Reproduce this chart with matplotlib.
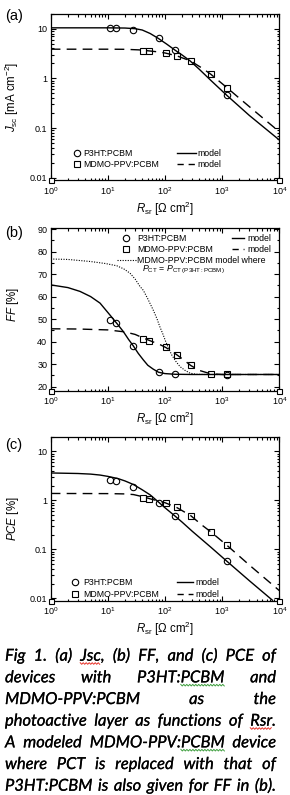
import numpy as np
import matplotlib
matplotlib.use("Agg")
import matplotlib.pyplot as plt
import matplotlib.patheffects as pe
from matplotlib.lines import Line2D
from matplotlib.ticker import FixedLocator, FixedFormatter, LogLocator, NullFormatter, MultipleLocator

plt.rcParams['font.family'] = ['Liberation Sans', 'DejaVu Sans']
plt.rcParams['mathtext.fontset'] = 'custom'
plt.rcParams['mathtext.rm'] = 'Liberation Sans'
plt.rcParams['mathtext.it'] = 'Liberation Sans:italic'
plt.rcParams['mathtext.bf'] = 'Liberation Sans:bold'
plt.rcParams['mathtext.sf'] = 'Liberation Sans'

# ---------------- data ----------------
rsr_p3ht = [10.9, 13.8, 27.9, 77, 150, 1200]
jsc_p3ht = [10.1, 10.1, 9.6, 6.45, 3.8, 0.46]
ff_p3ht = [49.4, 48.2, 38.1, 26.4, 25.6, 25.3]
pce_p3ht = [2.67, 2.47, 1.87, 0.87, 0.48, 0.058]

rsr_mdmo = [41.7, 53, 103, 162, 282, 630, 1200]
jsc_mdmo = [3.58, 3.54, 3.27, 2.80, 2.26, 1.24, 0.65]
ff_mdmo = [41.1, 40.4, 37.4, 34.1, 29.4, 25.6, 25.4]
pce_mdmo = [1.13, 1.07, 0.90, 0.73, 0.49, 0.23, 0.123]

# model curves
jsc_model_p3ht_r = [1, 5, 10, 20, 30, 40, 55, 76, 107, 150, 200, 274, 400, 630, 1200, 3000, 10000]
jsc_model_p3ht = [10.4, 10.4, 10.4, 10.3, 10.0, 9.4, 8.0, 6.4, 4.9, 3.7, 2.95, 2.26, 1.52, 0.92, 0.46, 0.18, 0.058]
jsc_model_mdmo_r = [1, 10, 20, 35, 50, 70, 100, 160, 280, 450, 630, 1200, 2000, 5000, 10000]
jsc_model_mdmo = [3.87, 3.87, 3.85, 3.75, 3.6, 3.45, 3.25, 2.85, 2.25, 1.6, 1.22, 0.66, 0.40, 0.165, 0.085]

ff_model_p3ht_r = [1, 2, 3.26, 5, 7.3, 11.4, 15, 18.6, 23, 27.9, 34, 41.7, 50, 62, 77, 100, 150, 300, 1000, 10000]
ff_model_p3ht = [65.2, 64.0, 62.3, 60.0, 57.1, 51.2, 47.5, 44.5, 41.0, 38.1, 34.8, 31.9, 29.5, 27.8, 26.4, 25.8, 25.5, 25.4, 25.4, 25.4]
ff_model_mdmo_r = [1, 3, 10, 20, 30, 41.7, 60, 80, 103, 130, 162, 220, 282, 400, 630, 1000, 10000]
ff_model_mdmo = [45.7, 45.6, 45.2, 44.3, 43.2, 41.6, 40.0, 38.8, 37.4, 35.8, 34.1, 31.6, 29.4, 27.2, 25.7, 25.4, 25.4]
ff_model_pct_r = [1, 2, 4.9, 9, 14.3, 19, 24.4, 30, 36.5, 41.7, 50, 62, 72, 81, 92, 103, 116, 131, 155, 183, 225, 274, 350, 500, 10000]
ff_model_pct = [76.7, 76.5, 75.6, 74.7, 73.7, 72.3, 70.4, 67.8, 64.5, 62.8, 59.0, 54.1, 50.3, 46.7, 43.3, 40.0, 37.0, 34.1, 31.2, 28.9, 27.2, 26.0, 25.5, 25.4, 25.4]

pce_model_p3ht_r = [1, 3, 5, 7.3, 10, 15, 20, 27.9, 40, 55, 76, 100, 150, 200, 300, 630, 1200, 3000, 7600]
pce_model_p3ht = [3.64, 3.55, 3.45, 3.3, 3.1, 2.8, 2.5, 2.12, 1.65, 1.3, 0.94, 0.71, 0.48, 0.36, 0.235, 0.112, 0.058, 0.023, 0.0092]
pce_model_mdmo_r = [1, 10, 20, 28, 40, 60, 100, 160, 282, 450, 630, 1200, 3000, 10000]
pce_model_mdmo = [1.39, 1.38, 1.36, 1.32, 1.2, 1.05, 0.9, 0.72, 0.49, 0.31, 0.23, 0.123, 0.048, 0.0145]

x_ticks = [1, 10, 100, 1000, 10000]
x_ticklabels = [r'$10^{0}$', r'$10^{1}$', r'$10^{2}$', r'$10^{3}$', r'$10^{4}$']
log_y_ticks = [0.01, 0.1, 1, 10]
log_y_ticklabels = ['0.01', '0.1', '1', '10']
ff_ticks = [20, 30, 40, 50, 60, 70, 80, 90]
ff_ticklabels = ['20', '30', '40', '50', '60', '70', '80', '90']

label_p3ht = 'P3HT:PCBM'
label_mdmo = 'MDMO-PPV:PCBM'
label_model = 'model'
label_pct = 'MDMO-PPV:PCBM model where'
pct_note = r'$P_{\rm CT}$ = $P_{\rm CT\ (P3HT:PCBM)}$'
xlabel = r'$R_{\rm sr}$ [Ω cm$^{2}$]'
ylabels = [r'$J_{\rm sc}$ [mA cm$^{-2}$]', r'$FF$ [%]', r'$PCE$ [%]']
panel_labels = ['(a)', '(b)', '(c)']

caption_lines = [
    "Fig 1. (a) Jsc, (b) FF, and (c) PCE of",
    "devices with P3HT:PCBM and",
    "MDMO-PPV:PCBM as the",
    "photoactive layer as functions of Rsr.",
    "A modeled MDMO-PPV:PCBM device",
    "where PCT is replaced with that of",
    "P3HT:PCBM is also given for FF in (b).",
]
# (line, word, first char, end char, colour) of spell-check squiggles
caption_squiggles = [
    (0, 3, 0, 3, '#e8332a'),
    (1, 2, 5, 9, '#3f9f3f'),
    (3, 5, 0, 3, '#e8332a'),
    (4, 2, 9, 13, '#3f9f3f'),
]

# ---------------- layout ----------------
W, H = 290, 795
fig = plt.figure(figsize=(W / 100, H / 100), dpi=100)

def ax_rect(left, top, right, bottom):
    return [left / W, 1 - bottom / H, (right - left) / W, (bottom - top) / H]

ax_a = fig.add_axes(ax_rect(50.7, 13.7, 279.3, 180.0))
ax_b = fig.add_axes(ax_rect(50.7, 227.7, 279.3, 390.7))
ax_c = fig.add_axes(ax_rect(50.7, 436.7, 279.3, 600.5))

TICK_FS = 6.5
LAB_FS = 8.3
LEG_FS = 6.3
MS = 4.6
MEW = 0.8
LW = 1.0
DASH = (7, 4.5)

def style_axis(ax, logy):
    ax.set_xscale('log')
    ax.set_xlim(1, 1e4)
    ax.xaxis.set_major_locator(FixedLocator(x_ticks))
    ax.xaxis.set_major_formatter(FixedFormatter(x_ticklabels))
    ax.xaxis.set_minor_locator(LogLocator(base=10, subs=np.arange(2, 10)))
    ax.xaxis.set_minor_formatter(NullFormatter())
    if logy:
        ax.set_yscale('log')
        ax.set_ylim(0.0091, 20)
        ax.yaxis.set_major_locator(FixedLocator(log_y_ticks))
        ax.yaxis.set_major_formatter(FixedFormatter(log_y_ticklabels))
        ax.yaxis.set_minor_locator(LogLocator(base=10, subs=np.arange(2, 10)))
        ax.yaxis.set_minor_formatter(NullFormatter())
    else:
        ax.set_ylim(18.2, 90.6)
        ax.yaxis.set_major_locator(FixedLocator(ff_ticks))
        ax.yaxis.set_major_formatter(FixedFormatter(ff_ticklabels))
        ax.yaxis.set_minor_locator(MultipleLocator(5))
    ax.tick_params(which='both', direction='in', top=True, right=True, width=0.8, labelsize=TICK_FS)
    ax.tick_params(which='major', length=3.3)
    ax.tick_params(which='minor', length=1.8)
    ax.tick_params(axis='x', pad=3.5)
    ax.tick_params(axis='y', pad=2.5)
    for s in ax.spines.values():
        s.set_linewidth(0.9)
    ax.set_xlabel(xlabel, fontsize=LAB_FS)
    ax.xaxis.set_label_coords(0.5, -0.118)
    # corner artefacts
    ax.plot([0, 1], [0, 0], 's', transform=ax.transAxes, clip_on=False, ms=3.6,
            mfc='white', mec='black', mew=0.8, zorder=6)

for ax, logy in ((ax_a, True), (ax_b, False), (ax_c, True)):
    style_axis(ax, logy)

mk_c = dict(marker='o', ls='none', ms=MS, mfc='none', mec='black', mew=MEW)
mk_s = dict(marker='s', ls='none', ms=MS, mfc='none', mec='black', mew=MEW)

# (a)
ax_a.plot(jsc_model_p3ht_r, jsc_model_p3ht, '-', color='black', lw=LW)
ax_a.plot(jsc_model_mdmo_r, jsc_model_mdmo, color='black', lw=LW, dashes=DASH)
ax_a.plot(rsr_p3ht, jsc_p3ht, **mk_c)
ax_a.plot(rsr_mdmo, jsc_mdmo, **mk_s)

# (b)
ax_b.plot(ff_model_pct_r, ff_model_pct, color='black', lw=0.8, ls=(0, (1, 1.3)))
ax_b.plot(ff_model_p3ht_r, ff_model_p3ht, '-', color='black', lw=LW)
ax_b.plot(ff_model_mdmo_r, ff_model_mdmo, color='black', lw=LW, dashes=DASH)
ax_b.plot(rsr_p3ht, ff_p3ht, **mk_c)
ax_b.plot(rsr_mdmo, ff_mdmo, **mk_s)

# (c)
ax_c.plot(pce_model_p3ht_r, pce_model_p3ht, '-', color='black', lw=LW)
ax_c.plot(pce_model_mdmo_r, pce_model_mdmo, color='black', lw=LW, dashes=DASH)
ax_c.plot(rsr_p3ht, pce_p3ht, **mk_c)
ax_c.plot(rsr_mdmo, pce_mdmo, **mk_s)

# y labels
ax_a.set_ylabel(ylabels[0], fontsize=LAB_FS)
ax_b.set_ylabel(ylabels[1], fontsize=LAB_FS)
ax_c.set_ylabel(ylabels[2], fontsize=LAB_FS)
ax_a.yaxis.set_label_coords(-0.128, 0.5)
ax_b.yaxis.set_label_coords(-0.128, 0.53)
ax_c.yaxis.set_label_coords(-0.128, 0.5)

# legends
h_c = Line2D([], [], **mk_c)
h_s = Line2D([], [], **mk_s)
h_solid = Line2D([], [], color='black', lw=LW)
h_dash = Line2D([], [], color='black', lw=LW, dashes=(4.5, 3.5))
h_dot = Line2D([], [], color='black', lw=0.8, ls=(0, (1, 1.3)))

leg_kw = dict(frameon=False, borderpad=0, borderaxespad=0, fontsize=LEG_FS, loc='center left')

def axx(ax, px):
    return (px - 50.7) / 228.6

# (a) legends
l1 = ax_a.legend([h_c, h_s], [label_p3ht, label_mdmo], bbox_to_anchor=(axx(ax_a, 73.0), 0.127),
                 handlelength=0.8, handletextpad=0.35, labelspacing=0.28, **leg_kw)
ax_a.add_artist(l1)
ax_a.legend([h_solid, h_dash], [label_model, label_model], bbox_to_anchor=(axx(ax_a, 176.7), 0.127),
            handlelength=2.15, handletextpad=0.25, labelspacing=0.28, **leg_kw)

# (b) legends
l2 = ax_b.legend([h_c, h_s, h_dot], [label_p3ht, label_mdmo, label_pct],
                 bbox_to_anchor=(axx(ax_b, 116.5), 0.8675),
                 handlelength=2.2, handletextpad=0.15, labelspacing=0.25, **leg_kw)
ax_b.add_artist(l2)
ax_b.legend([h_solid, h_dash], [label_model, label_model], bbox_to_anchor=(axx(ax_b, 231.7), 0.898),
            handlelength=1.45, handletextpad=0.3, labelspacing=0.25, **leg_kw)
ax_b.text(axx(ax_b, 141.7), (390.7 - 270.0) / 163.0, pct_note, transform=ax_b.transAxes,
          fontsize=LEG_FS, ha='left', va='center')

# (c) legends
l3 = ax_c.legend([h_c, h_s], [label_p3ht, label_mdmo], bbox_to_anchor=(axx(ax_c, 71.5), 0.072),
                 handlelength=0.8, handletextpad=0.5, labelspacing=0.28, **leg_kw)
ax_c.add_artist(l3)
ax_c.legend([h_solid, h_dash], [label_model, label_model], bbox_to_anchor=(axx(ax_c, 177.0), 0.072),
            handlelength=1.8, handletextpad=0.3, labelspacing=0.28, **leg_kw)

# panel labels
for lab, yc in zip(panel_labels, [15.8, 233.0, 445.0]):
    fig.text(5 / W, 1 - yc / H, lab, fontsize=10.5, ha='left', va='center')

# ---------------- caption (every line justified, as in the source) ----------------
renderer = fig.canvas.get_renderer()
CAP_FONT = dict(family=['Lato', 'DejaVu Sans'], style='italic', color='black')
CAP_FX = [pe.withStroke(linewidth=0.15, foreground='black')]

def text_width(s, fs):
    t = fig.text(0, 0, s, fontsize=fs, **CAP_FONT)
    w = t.get_window_extent(renderer).width
    t.remove()
    return w

LEFT, RIGHT = 5.0, 276.0
fs_ref = 10 * 135.0 / text_width('MDMO-PPV:PCBM', 10)
fs_fit = min(10 * 264.0 / text_width(l, 10) for l in caption_lines)
cap_fs = min(fs_ref, fs_fit)
base0, dy = 660.7, 21.67

word_pos = {}
for i, line in enumerate(caption_lines):
    words = line.split(' ')
    yb = 1 - (base0 + i * dy) / H
    widths = [text_width(w, cap_fs) for w in words]
    gap = (RIGHT - LEFT - sum(widths)) / (len(words) - 1)
    x = LEFT
    for j, (w, ww) in enumerate(zip(words, widths)):
        fig.text(x / W, yb, w, fontsize=cap_fs, ha='left', va='baseline', path_effects=CAP_FX, **CAP_FONT)
        word_pos[(i, j)] = (x, w)
        x += ww + gap

for (li, wi, c0, c1, col) in caption_squiggles:
    x0, word = word_pos[(li, wi)]
    xs = x0 + (text_width(word[:c0], cap_fs) if c0 > 0 else 0)
    xe = x0 + text_width(word[:c1], cap_fs)
    px = np.arange(xs, xe + 0.01, 1.5)
    py = base0 + li * dy + 2.8 + np.where(np.arange(len(px)) % 2 == 0, -0.8, 0.8)
    fig.add_artist(Line2D(px / W, 1 - py / H, color=col, lw=0.7, transform=fig.transFigure))

fig.savefig('out.png', dpi=100)
